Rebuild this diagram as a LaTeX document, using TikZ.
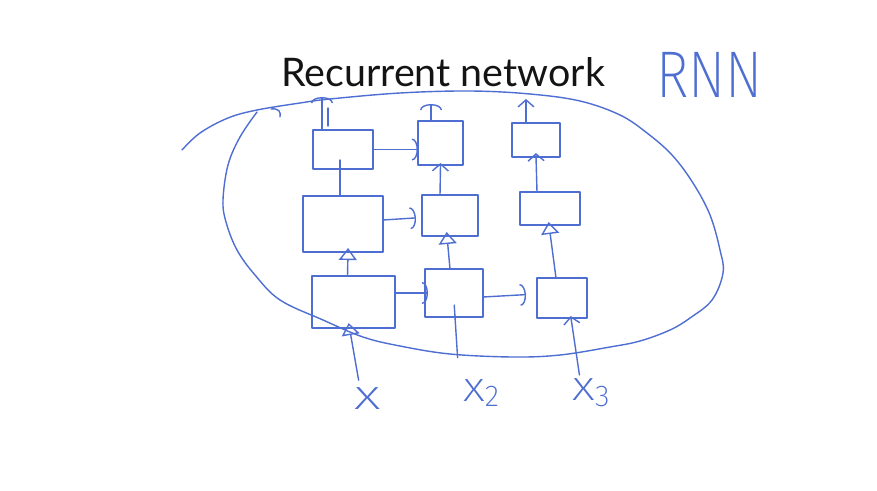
\documentclass[tikz,border=0pt]{standalone}
\usepackage{fontspec}
\usetikzlibrary{arrows.meta}
\newfontfamily\titlefont{Lato}
\IfFontExistsTF{Fira Sans ExtraLight}
  {\newfontfamily\handfont{Fira Sans ExtraLight}}
  {\IfFontExistsTF{Fira Sans Light}
     {\newfontfamily\handfont{Fira Sans Light}}
     {\newfontfamily\handfont{Fira Sans}}}
\definecolor{ink}{RGB}{78,110,210}
\definecolor{titleink}{RGB}{20,20,20}
\tikzset{
  pen/.style={draw=ink, line width=1.4pt, line cap=round, line join=round},
  cell/.style={pen, rectangle, inner sep=0pt, outer sep=0pt},
  harr/.style={pen, -{Arc Barb[length=6pt, width=22pt]}},
  varr/.style={pen, -{Triangle[open, length=12pt, width=18pt, line width=1.4pt]}},
  barb/.style={pen, -{Straight Barb[length=7pt, width=16pt]}},
  hand/.style={text=ink, inner sep=0pt, outer sep=0pt},
}
\begin{document}
\begin{tikzpicture}[x=1pt, y=-1pt]
\useasboundingbox[fill=white] (0,0) rectangle (877,490);

% title and handwritten tag
\node[anchor=base west, inner sep=0pt, text=titleink,
      font=\titlefont\fontsize{39.4pt}{42pt}\selectfont] (title) at (281,86) {Recurrent network};
\node[hand, anchor=base west, font=\handfont\fontsize{66pt}{66pt}\selectfont] (tag) at (656,97)
  {\scalebox{0.84}[1]{RNN}};

% enclosing loop around the unrolled network
\draw[pen] plot[smooth, tension=0.6] coordinates {
  (182,150) (200,133) (228,118) (257,110) (300,103) (330,99) (400,93) (470,91)
  (530,94) (580,101) (620,115) (647,133) (672,155) (693,183) (710,215) (720,250)
  (723,273) (712,300) (690,318) (670,330) (640,341) (610,347) (560,355) (513,357)
  (450,354) (400,346) (363,337) (323,320) (280,300) (255,275) (237,250) (226,222)
  (223,200) (228,165) (240,137) (257,112)};
\draw[pen] (271,109) .. controls (279,108) and (281,112) .. (280,117);

% grid of cells: three layers, three time steps
\node[cell, minimum width=60pt, minimum height=39pt] (t1) at (343,149.5) {};
\node[cell, minimum width=45pt, minimum height=44pt] (t2) at (440.5,143) {};
\node[cell, minimum width=48pt, minimum height=34pt] (t3) at (536,140) {};
\node[cell, minimum width=80pt, minimum height=56pt] (m1) at (343,224) {};
\node[cell, minimum width=56pt, minimum height=41pt] (m2) at (450,215.5) {};
\node[cell, minimum width=60pt, minimum height=33pt] (m3) at (550,208.5) {};
\node[cell, minimum width=83pt, minimum height=52pt] (b1) at (353.5,302) {};
\node[cell, minimum width=58pt, minimum height=48pt] (b2) at (454,293) {};
\node[cell, minimum width=50pt, minimum height=40pt] (b3) at (562,298) {};

% inputs
\node[hand, font=\handfont\fontsize{42pt}{42pt}\selectfont] (xa) at (368,399)
  {\scalebox{1.4}[1]{x}};
\node[hand, font=\handfont\fontsize{42pt}{42pt}\selectfont] (xb) at (481,393)
  {\scalebox{1.15}[1]{x}{\fontsize{30pt}{30pt}\selectfont\raisebox{-5pt}{2}}};
\node[hand, font=\handfont\fontsize{42pt}{42pt}\selectfont] (xc) at (591,393)
  {\scalebox{1.2}[1]{x}{\fontsize{30pt}{30pt}\selectfont\raisebox{-6pt}{3}}};

% outputs
\coordinate (oa) at (322,97);
\coordinate (ob) at (431,104);
\coordinate (oc) at (526,99);

% recurrent (horizontal) connections
\draw[harr] (t1.east) -- (t1.east -| t2.west);
\draw[harr, shorten >=6pt] ([yshift=4pt]m1.east) -- ([yshift=-2pt]m2.west);
\draw[harr, shorten >=-3pt] (b2.west -| b1.east) -- (b2.west);
\draw[harr, shorten >=11pt] ([yshift=-4pt]b2.east) -- ([yshift=4pt]b3.west);

% layer-to-layer (vertical) connections
\draw[varr, shorten >=-4pt] ([xshift=-6pt]b1.north) -- ([xshift=5pt]m1.south);
\draw[varr, shorten >=-4pt] ([xshift=-4pt]b2.north) -- ([xshift=-3pt]m2.south);
\draw[varr, shorten >=-3pt] ([xshift=-6pt]b3.north) -- ([xshift=-1pt]m3.south);
\draw[pen, shorten >=-9pt] ([xshift=-3pt]m1.north) -- ([xshift=-3pt]t1.south);
\draw[barb, shorten >=-2pt] ([xshift=-10pt]m2.north) -- (t2.south);
\draw[barb, shorten >=-4pt] ([xshift=-13pt]m3.north) -- (t3.south);

% output arrows
\draw[harr] ([xshift=-21pt]t1.north) -- (oa);
\draw[pen] ([xshift=-15pt,yshift=4pt]t1.north) -- ([xshift=-15pt,yshift=22pt]t1.north);
\draw[harr] ([xshift=-9.5pt]t2.north) -- (ob);
\draw[barb] ([xshift=-10pt]t3.north) -- (oc);

% input arrows
\draw[varr, shorten <=8pt, shorten >=-5pt] ([xshift=-8pt]xa.north) -- ([xshift=-4pt]b1.south);
\draw[pen, shorten <=22pt, shorten >=-12pt] ([xshift=-22pt]xb.north) -- ([xshift=1pt]b2.south);
\draw[barb, shorten <=4pt, shorten >=-2pt] ([xshift=-11pt]xc.north) -- ([xshift=9pt]b3.south);
\end{tikzpicture}
\end{document}
